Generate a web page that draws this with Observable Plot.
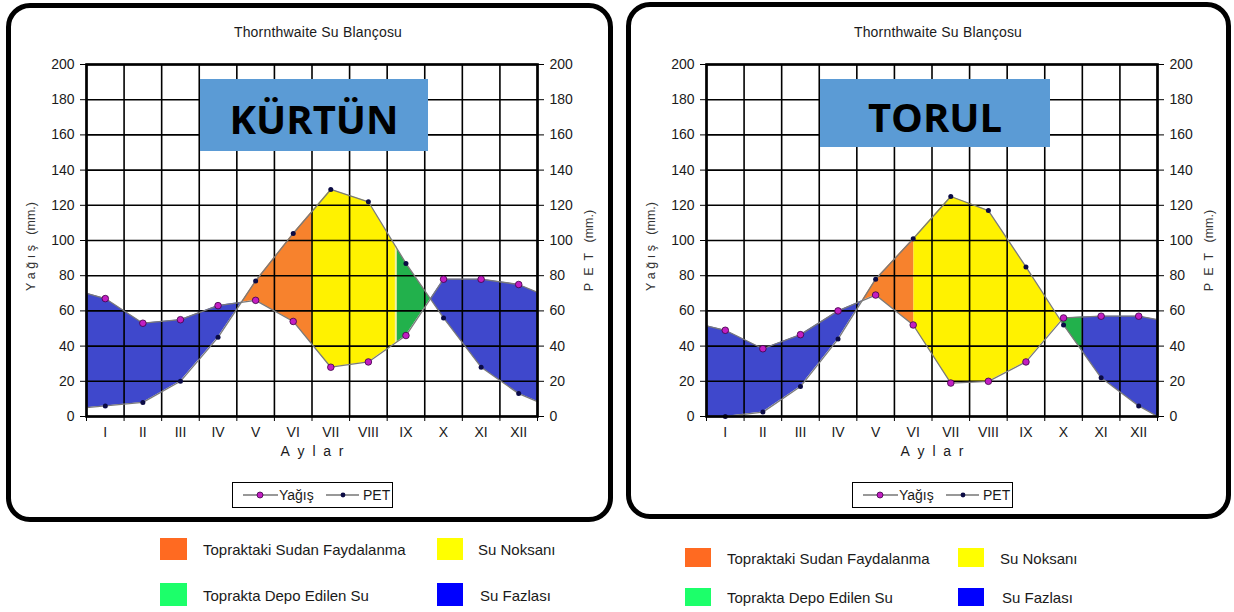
<!DOCTYPE html>
<html><head><meta charset="utf-8">
<script src="https://cdn.jsdelivr.net/npm/d3@7"></script>
<script src="https://cdn.jsdelivr.net/npm/@observablehq/plot@0.6"></script>
<style>
body{margin:0;background:#fff;font-family:"Liberation Sans",Arial,sans-serif;color:#1a1a1a;}
#page{position:relative;width:1234px;height:612px;overflow:hidden;background:#fff;}
.panel{position:absolute;border:5px solid #000;border-radius:24px;box-sizing:border-box;}
.abs{position:absolute;white-space:nowrap;}
.title{font-size:14px;letter-spacing:0.2px;transform:translateX(-50%);}
.name{background:#5b9bd5;text-align:center;font-family:"Open Sans",sans-serif;font-weight:700;font-size:40px;color:#000;}
.leg{border:1px solid #000;box-sizing:border-box;background:#fff;}
.sw{position:absolute;}
.lt{position:absolute;font-size:15px;transform:translateY(-50%);white-space:nowrap;}
</style>
</head><body>
<div id="page"></div>
<script>
const months = ["I","II","III","IV","V","VI","VII","VIII","IX","X","XI","XII"];
const yTicks = [0,20,40,60,80,100,120,140,160,180,200];

const kurtunYagis = [67,53,55,63,66,54,28,31,46,78,78,75];
const kurtunPET = [6,8,20,45,77,104,129,122,87,56,28,13];
const kurtunYagisEdges = [70,70.5];
const kurtunPETEdges = [5,8.5];
const kurtunBreaks = [0.5,4.62,6.5,8.73,9.65,12.5];
const kurtunZones = ["fazla","faydalanma","noksan","depo","fazla"];
const kurtunSeams = [8.73];

const torulYagis = [49,38.5,46.5,60,69,52,19,20,31,56,57,57];
const torulPET = [0,2.5,17,44,78,101,125,117,85,52,22,6];
const torulYagisEdges = [51.5,55];
const torulPETEdges = [0,0];
const torulBreaks = [0.5,4.64,6.02,9.93,10.5,12.5];
const torulZones = ["fazla","faydalanma","noksan","depo","fazla"];
const torulSeams = [];

const zoneColors = {fazla:"#3f48cc", faydalanma:"#f7822d", noksan:"#fff200", depo:"#22b14c"};
const legendColors = {faydalanma:"#ff6a21", noksan:"#ffff00", depo:"#1cff6a", fazla:"#0000ff"};
const legendLabels = {faydalanma:"Topraktaki Sudan Faydalanma", noksan:"Su Noksanı", depo:"Toprakta Depo Edilen Su", fazla:"Su Fazlası"};

const page = document.getElementById("page");

function el(tag, cls, style, html){
  const e = document.createElement(tag);
  if (cls) e.className = cls;
  Object.assign(e.style, style || {});
  if (html != null) e.innerHTML = html;
  page.appendChild(e);
  return e;
}

function series(vals, edges){
  return [{x:0.5, y:edges[0]}, ...vals.map((v,i)=>({x:i+1, y:v})), {x:12.5, y:edges[1]}];
}
function interp(s, x){
  for (let i=0;i<s.length-1;i++){
    if (x>=s[i].x && x<=s[i+1].x){
      const t=(x-s[i].x)/(s[i+1].x-s[i].x);
      return s[i].y + t*(s[i+1].y-s[i].y);
    }
  }
  return s[s.length-1].y;
}

function station(cfg){
  const P = series(cfg.yagis, cfg.yagisEdges);
  const E = series(cfg.pet, cfg.petEdges);
  const areas = [];
  cfg.zones.forEach((z,k)=>{
    const a = cfg.breaks[k], b = cfg.breaks[k+1];
    const xs = [a, ...P.map(d=>d.x).filter(v=>v>a && v<b), b];
    const pts = xs.map(x=>({x, p:interp(P,x), e:interp(E,x)}));
    areas.push(Plot.areaY(pts, {x:"x", y1:"p", y2:"e", fill:zoneColors[z], curve:"linear"}));
  });
  const seams = cfg.seams.map(x=>({x, p:interp(P,x), e:interp(E,x)}));
  const W = cfg.width;
  const bounds = d3.range(0.5, 13, 1);
  const plot = Plot.plot({
    width: W, height: 470,
    marginLeft: 86, marginRight: W-86-451, marginTop: 64, marginBottom: 54,
    x: {domain:[0.5,12.5]},
    y: {domain:[0,200]},
    style: {background:"transparent", fontFamily:"Liberation Sans, Arial, sans-serif", overflow:"visible", maxWidth:"none"},
    marks: [
      ...areas,
      Plot.ruleX(seams, {x:"x", y1:"p", y2:"e", stroke:"#f3f0a8", strokeWidth:2}),
      Plot.gridX({ticks: bounds, stroke:"#000", strokeOpacity:1, strokeWidth:1.6}),
      Plot.gridY({ticks: yTicks, stroke:"#000", strokeOpacity:1, strokeWidth:1.6}),
      Plot.line(P, {x:"x", y:"y", stroke:"#7a7a7a", strokeWidth:1.3}),
      Plot.line(E, {x:"x", y:"y", stroke:"#7a7a7a", strokeWidth:1.3}),
      Plot.dot(P.slice(1,13), {x:"x", y:"y", r:3.3, fill:"#c21ec2", stroke:"#3c0044", strokeWidth:0.8}),
      Plot.dot(E.slice(1,13), {x:"x", y:"y", r:2.5, fill:"#0b0b45", stroke:"none"}),
      Plot.frame({stroke:"#000", strokeWidth:2.6}),
      Plot.axisY({ticks: yTicks, anchor:"left", tickSize:6, tickPadding:6, fontSize:14, label:null, stroke:"#000", fill:"#1a1a1a"}),
      Plot.axisY({ticks: yTicks, anchor:"right", tickSize:6, tickPadding:6, fontSize:14, label:null, stroke:"#000", fill:"#1a1a1a"}),
      Plot.axisX({ticks: bounds, anchor:"bottom", tickSize:5, tickFormat:()=>"", label:null, stroke:"#000"}),
      Plot.axisX({ticks: d3.range(1,13), anchor:"bottom", tickSize:0, tickPadding:11, tickFormat:d=>months[d-1], fontSize:14, label:null, fill:"#1a1a1a"}),
      Plot.text(["A\u00a0\u00a0y\u00a0\u00a0l\u00a0\u00a0a\u00a0\u00a0r"], {frameAnchor:"bottom", dy:39, text:d=>d, fontSize:14, fill:"#1a1a1a"}),
      Plot.text(["Y\u00a0a\u00a0ğ\u00a0ı\u00a0ş\u00a0\u00a0\u00a0(mm.)"], {frameAnchor:"left", dx:-56, dy:6, rotate:-90, textAnchor:"middle", text:d=>d, fontSize:12.5, fill:"#333"}),
      Plot.text(["P\u00a0\u00a0E\u00a0\u00a0T\u00a0\u00a0\u00a0(mm.)"], {frameAnchor:"right", dx:51, dy:10, rotate:-90, textAnchor:"middle", text:d=>d, fontSize:12.5, fill:"#333"})
    ]
  });
  plot.style.position = "absolute";
  plot.style.left = cfg.ox + "px";
  plot.style.top = "0px";
  page.appendChild(plot);

  el("div","panel",cfg.panel);
  el("div","abs title",{left:(cfg.ox+318)+"px", top:"24px"},"Thornthwaite Su Blançosu");
  el("div","abs name",cfg.nameBox,cfg.name);
  const lx = cfg.ox + 232;
  el("div","abs leg",{left:lx+"px", top:"482px", width:"161px", height:"26px"},
    `<svg width="159" height="24" style="display:block">
      <line x1="10" x2="45" y1="12" y2="12" stroke="#333" stroke-width="1.2"/>
      <circle cx="27" cy="12" r="3" fill="#c21ec2" stroke="#3c0044" stroke-width="0.8"/>
      <text x="46" y="17" font-size="14" fill="#1a1a1a">Yağış</text>
      <line x1="93" x2="126" y1="12" y2="12" stroke="#333" stroke-width="1.2"/>
      <circle cx="110" cy="12" r="2.4" fill="#0b0b45"/>
      <text x="130" y="17" font-size="14" fill="#1a1a1a">PET</text>
    </svg>`);
}

station({name:"KÜRTÜN", width:620, ox:0, yagis:kurtunYagis, pet:kurtunPET, yagisEdges:kurtunYagisEdges, petEdges:kurtunPETEdges, breaks:kurtunBreaks, zones:kurtunZones, seams:kurtunSeams,
  panel:{left:"6px", top:"3px", width:"607px", height:"519px"},
  nameBox:{left:"200px", top:"79px", width:"228px", height:"72px", lineHeight:"80px"}});
station({name:"TORUL", width:614, ox:620, yagis:torulYagis, pet:torulPET, yagisEdges:torulYagisEdges, petEdges:torulPETEdges, breaks:torulBreaks, zones:torulZones, seams:torulSeams,
  panel:{left:"626px", top:"2px", width:"605px", height:"517px"},
  nameBox:{left:"820px", top:"79px", width:"230px", height:"68px", lineHeight:"76px"}});

function colorLegend(items){
  items.forEach(it=>{
    el("div","sw",{left:it.sx+"px", top:it.sy+"px", width:it.sw+"px", height:it.sh+"px", background:legendColors[it.key]});
    el("div","lt",{left:it.tx+"px", top:(it.sy+it.sh/2)+"px"}, legendLabels[it.key]);
  });
}
colorLegend([
  {key:"faydalanma", sx:160, sy:538, sw:27, sh:22, tx:203},
  {key:"noksan", sx:437, sy:538, sw:26, sh:22, tx:478},
  {key:"depo", sx:160, sy:583, sw:27, sh:23, tx:203},
  {key:"fazla", sx:437, sy:583, sw:26, sh:23, tx:480}
]);
colorLegend([
  {key:"faydalanma", sx:685, sy:548, sw:26, sh:19, tx:727},
  {key:"noksan", sx:958, sy:548, sw:26, sh:19, tx:1000},
  {key:"depo", sx:685, sy:588, sw:26, sh:18, tx:727},
  {key:"fazla", sx:958, sy:588, sw:26, sh:18, tx:1002}
]);
</script>
</body></html>
